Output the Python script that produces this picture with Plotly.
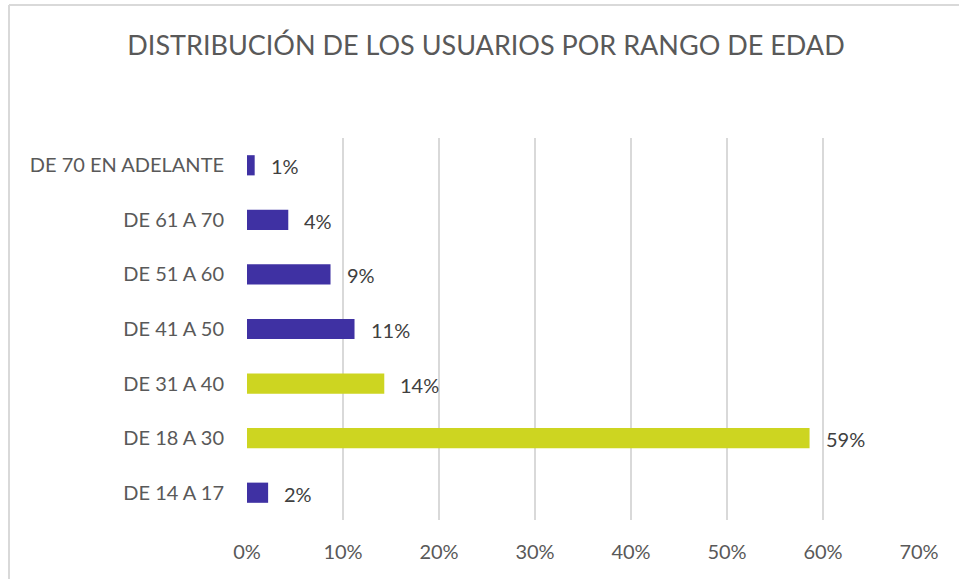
import plotly.graph_objects as go

categories = ["DE 14 A 17", "DE 18 A 30", "DE 31 A 40", "DE 41 A 50",
              "DE 51 A 60", "DE 61 A 70", "DE 70 EN ADELANTE"]
values = [2.2, 58.6, 14.3, 11.2, 8.7, 4.3, 0.8]
labels = ["2%", "59%", "14%", "11%", "9%", "4%", "1%"]
bar_colors = ["#3F31A3", "#CDD521", "#CDD521", "#3F31A3",
              "#3F31A3", "#3F31A3", "#3F31A3"]
x_ticks = [0, 10, 20, 30, 40, 50, 60, 70]
x_tick_labels = ["0%", "10%", "20%", "30%", "40%", "50%", "60%", "70%"]
title = "DISTRIBUCIÓN DE LOS USUARIOS POR RANGO DE EDAD"

FONT = "Lato, 'Open Sans', sans-serif"

fig = go.Figure()
fig.add_trace(go.Bar(
    x=values, y=categories, orientation="h",
    marker=dict(color=bar_colors, line=dict(width=0)),
    width=0.37, hoverinfo="skip",
))

for v, c, t in zip(values, categories, labels):
    fig.add_annotation(x=v, y=c, text=t, showarrow=False, xanchor="left",
                       yanchor="middle", xshift=14, yshift=-1,
                       font=dict(family=FONT, size=20, color="#404040"))

L, R, T, B = 247, 40, 138, 59
W, H = 959, 579
pw, ph = W - L - R, H - T - B

def px(xp):
    return (xp - L) / pw

def py(yp):
    return (H - B - yp) / ph

# chart frame (left and top borders)
fig.add_shape(type="line", xref="paper", yref="paper",
              x0=px(9), x1=px(9), y0=py(5), y1=py(585),
              line=dict(color="#D9D9D9", width=2), layer="below")
fig.add_shape(type="line", xref="paper", yref="paper",
              x0=px(9), x1=px(965), y0=py(5), y1=py(5),
              line=dict(color="#D9D9D9", width=2), layer="below")

fig.update_layout(
    width=W, height=H,
    margin=dict(l=L, r=R, t=T, b=B, autoexpand=False),
    paper_bgcolor="white", plot_bgcolor="white",
    showlegend=False,
    title=dict(text=title, x=(486) / W, xanchor="center",
               y=1 - 46 / H, yanchor="middle",
               font=dict(family=FONT, size=27, color="#595959")),
    xaxis=dict(range=[0, 70], tickvals=x_ticks, ticktext=x_tick_labels,
               showgrid=True, gridcolor="#D9D9D9", gridwidth=1.5,
               zeroline=False, showline=False, ticks="",
               ticklabelstandoff=18,
               tickfont=dict(family=FONT, size=20, color="#595959"),
               fixedrange=True),
    yaxis=dict(showgrid=False, zeroline=False, showline=False, ticks="",
               ticklabelstandoff=22, range=[-0.5, 6.5],
               tickfont=dict(family=FONT, size=20, color="#595959"),
               fixedrange=True),
)

fig.write_html("out.html", config={"displayModeBar": False},
               post_script="document.body.style.margin='0';"
                           "document.body.style.overflow='hidden';")
